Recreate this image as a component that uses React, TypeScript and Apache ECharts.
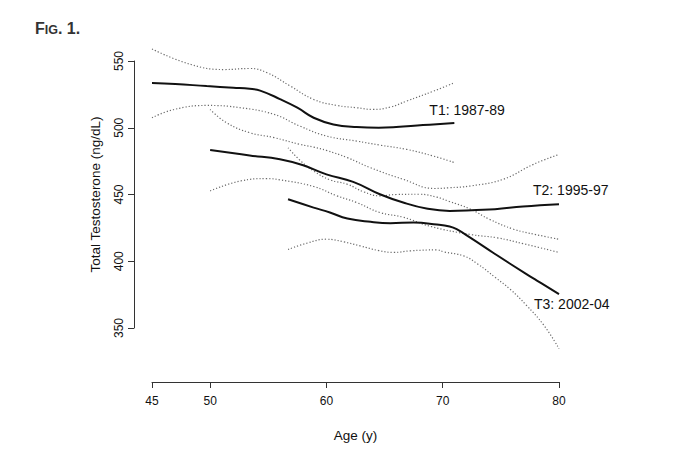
import React, { useEffect, useRef } from "react";
import * as echarts from "echarts";

const xTicks = [45, 50, 60, 70, 80];
const yTicks = [350, 400, 450, 500, 550];
const periodLabels = ["T1: 1987-89", "T2: 1995-97", "T3: 2002-04"];

// T1: 1987-89
const t1Fit = [
  [45, 533.5], [47, 532.8], [49.7, 531.2], [52, 530], [53.4, 529.2], [54.3, 527.8],
  [56, 521.5], [57.5, 515], [58.9, 507.5], [60.6, 502.5], [62.6, 500.5], [64.5, 500],
  [66, 500.5], [68.3, 502], [71, 503.5],
];
const t1Upper = [
  [45, 559], [48.3, 547.5], [51.2, 543.6], [53.4, 544.4], [54.9, 541.2], [56.9, 531.2],
  [58.9, 521.2], [60.9, 516.7], [62.6, 515], [64, 513.7], [65.5, 515.5], [66.9, 520],
  [69.2, 527.4], [71, 533.7],
];
const t1Lower = [
  [45, 507.5], [46.9, 513.7], [49.7, 516.7], [52.6, 515], [55.5, 510], [57.7, 501.3],
  [60, 493.8], [62.6, 490], [64.6, 487], [66.9, 483.8], [69.2, 478.8], [71, 473.9],
];

// T2: 1995-97
const t2Fit = [
  [50, 483.3], [53.4, 479.3], [56, 476.4], [58, 471.9], [60, 465.1], [62.3, 459.5],
  [64.6, 450.2], [66.6, 444], [68.6, 439.5], [70.6, 437.7], [72.9, 438.4], [74.5, 439],
  [76.9, 441], [80, 442.7],
];
const t2Upper = [
  [50, 513.7], [51.4, 503.8], [53.4, 496.3], [55.5, 492.6], [57.7, 487.6], [58.9, 485.5],
  [60, 483], [61.8, 477.6], [63.8, 470], [66.6, 461.4], [69.3, 454.5], [70.5, 455],
  [72.4, 456.4], [75.2, 461.4], [77.8, 472.6], [80, 480],
];
const t2Lower = [
  [50, 452.7], [52.6, 460.1], [54.9, 461.9], [56, 461], [58.9, 456], [60.9, 449],
  [62.6, 444], [64.6, 436.5], [66.6, 433], [69, 426], [72.4, 420], [74.7, 417.5],
  [77, 413], [80, 406.6],
];

// T3: 2002-04
const t3Fit = [
  [56.7, 446.4], [58.9, 440.2], [60.3, 436.5], [61.8, 432], [63.8, 429.5], [65.5, 428.5],
  [67.5, 429], [69.5, 427.5], [70.6, 426], [71.2, 424], [72.4, 417.5], [74.4, 406],
  [77.2, 390.3], [78.1, 385.5], [80, 375.4],
];
const t3Upper = [
  [56.7, 485], [57.8, 475], [58.9, 467.6], [60.3, 461], [61.8, 457.7], [63.2, 452],
  [64.6, 449], [66, 450], [68, 450.2], [69.5, 448], [70.5, 445], [72.4, 439],
  [74, 431.5], [76.1, 424], [78, 420], [80, 416.5],
];
const t3Lower = [
  [56.7, 408.8], [58.3, 413.5], [60, 416.5], [61.5, 414.5], [62.9, 411.5], [64.5, 408],
  [65.8, 406.6], [67.2, 407.8], [69.5, 408.5], [70.1, 407], [71.8, 404], [73, 398],
  [74.5, 388], [75.8, 379], [77.2, 367], [78.7, 352], [80, 334.5],
];

const FONT = "'Liberation Sans', Arial, Helvetica, sans-serif";

export default function App() {
  const ref = useRef<HTMLDivElement>(null);

  useEffect(() => {
    document.body.style.margin = "0";
    const chart = echarts.init(ref.current as HTMLDivElement, null, { renderer: "svg" });

    const fitSeries = (data: number[][], label: string, offset: number[]) => ({
      type: "line",
      data,
      symbol: "none",
      showSymbol: false,
      smooth: 0.45,
      clip: false,
      silent: true,
      lineStyle: { color: "#111", width: 2, type: "solid" },
      endLabel: {
        show: true,
        formatter: label,
        distance: 0,
        offset,
        fontSize: 14,
        fontFamily: FONT,
        color: "#111",
      },
      z: 3,
    });

    const ciSeries = (data: number[][]) => ({
      type: "line",
      data,
      symbol: "none",
      showSymbol: false,
      smooth: 0.45,
      clip: false,
      silent: true,
      lineStyle: { color: "#6a6a6a", width: 1.2, type: [1.2, 2] },
      z: 2,
    });

    chart.setOption({
      animation: false,
      backgroundColor: "#fff",
      grid: { left: 152, top: 61, width: 407, height: 267, containLabel: false },
      xAxis: {
        type: "value",
        min: 45,
        max: 80,
        interval: 5,
        offset: 54,
        axisLine: { show: true, onZero: false, lineStyle: { color: "#333", width: 1 } },
        axisTick: { show: true, length: 6, customValues: xTicks, lineStyle: { color: "#333" } },
        axisLabel: {
          customValues: xTicks,
          fontSize: 12,
          margin: 13,
          color: "#111",
          fontFamily: FONT,
        },
        splitLine: { show: false },
        name: "Age (y)",
        nameLocation: "middle",
        nameGap: 46,
        nameTextStyle: { fontSize: 13.5, color: "#111", fontFamily: FONT },
      },
      yAxis: {
        type: "value",
        min: 350,
        max: 550,
        interval: 50,
        offset: 18,
        axisLine: { show: true, onZero: false, lineStyle: { color: "#333", width: 1 } },
        axisTick: { show: true, length: 6, customValues: yTicks, lineStyle: { color: "#333" } },
        axisLabel: {
          customValues: yTicks,
          rotate: 90,
          fontSize: 12,
          margin: 9,
          color: "#111",
          fontFamily: FONT,
        },
        splitLine: { show: false },
        name: "Total Testosterone (ng/dL)",
        nameLocation: "middle",
        nameGap: 32,
        nameTextStyle: { fontSize: 13.5, color: "#111", fontFamily: FONT },
      },
      graphic: [
        {
          type: "text",
          left: 35,
          top: 20,
          style: {
            text: "{a|F}{b|IG}{a|. 1.}",
            rich: {
              a: { fontSize: 16, fontWeight: "bold", fontFamily: FONT, fill: "#333", lineHeight: 18, verticalAlign: "bottom" },
              b: { fontSize: 12.5, fontWeight: "bold", fontFamily: FONT, fill: "#333", lineHeight: 18, verticalAlign: "bottom" },
            },
          },
        },
      ],
      series: [
        ciSeries(t1Upper),
        ciSeries(t1Lower),
        ciSeries(t2Upper),
        ciSeries(t2Lower),
        ciSeries(t3Upper),
        ciSeries(t3Lower),
        fitSeries(t1Fit, periodLabels[0], [-25, -13]),
        fitSeries(t2Fit, periodLabels[1], [-26, -14]),
        fitSeries(t3Fit, periodLabels[2], [-25, 10]),
      ],
    });

    return () => chart.dispose();
  }, []);

  return <div ref={ref} style={{ width: 674, height: 450 }} />;
}
